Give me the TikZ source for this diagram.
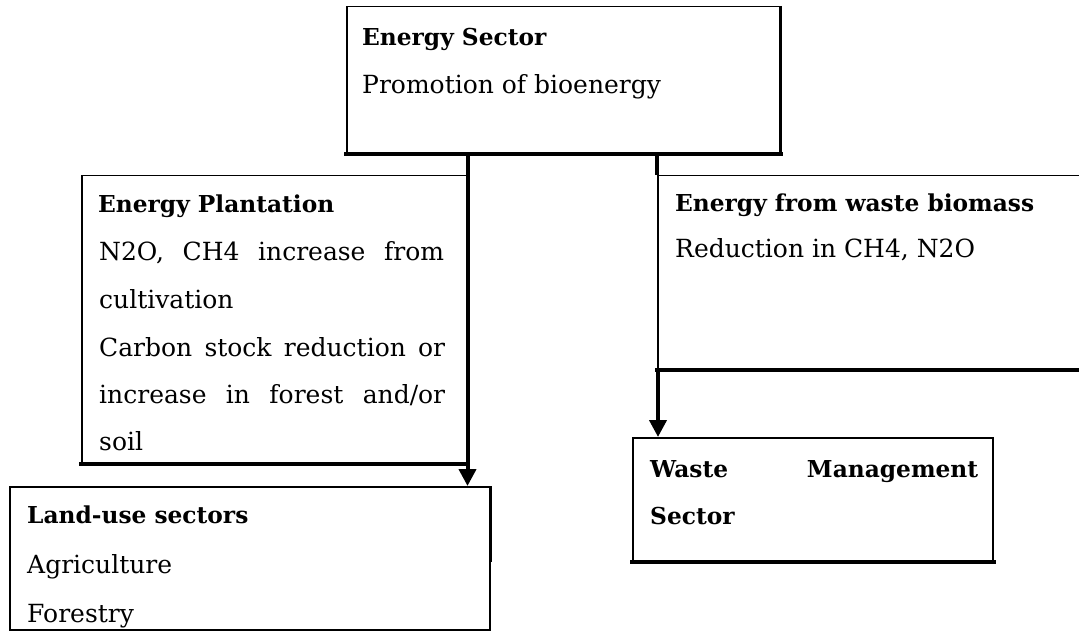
\documentclass[tikz,border=0pt]{standalone}
\usepackage{fontspec}
\setmainfont{DejaVu Serif}
\usetikzlibrary{arrows.meta}
\tikzset{
  box/.style={draw, line width=1.5pt, inner sep=0pt, anchor=north west, fill=white},
  thickline/.style={line width=4pt, line cap=rect},
  conn/.style={line width=4pt, -{Triangle[length=17pt,width=17pt]}},
  lbl/.style={anchor=base west, inner sep=0pt, font=\fontsize{25}{25}\selectfont},
  hdr/.style={anchor=base west, inner sep=0pt, font=\fontsize{23.3}{23.3}\selectfont\bfseries},
}
\begin{document}
\begin{tikzpicture}[x=1pt,y=-1pt]
\useasboundingbox (0,0) rectangle (1079,631);
% boxes
\node[box, minimum width=433pt, minimum height=147pt] (es) at (346,6) {};
\node[box, minimum width=385pt, minimum height=287pt] (ep) at (81,175) {};
\node[box, minimum width=440pt, minimum height=193pt] (ew) at (657,175) {};
\node[box, minimum width=480pt, minimum height=143pt] (lu) at (9,486) {};
\node[box, minimum width=360pt, minimum height=123pt] (wm) at (632,437) {};
% thick shadow edges
\draw[thickline] (es.south west) -- (es.south east);
\draw[line width=2pt] (es.north east) -- (es.south east);
\draw[thickline] (ep.south west) -- (ep.south east);
\draw[thickline] (ew.south west) -- (ew.south east);
\draw[thickline] (wm.south west) -- (wm.south east);
\draw[line width=3pt] (lu.north east) -- ++(0,76);
% connectors
\draw[conn] (es.south -| ep.east) -- (lu.north -| ep.east);
\draw[line width=4pt] (es.south -| ew.west) -- (ew.north west);
\draw[conn] (ew.south west) ++(1,0) coordinate (ewc) (ewc) -- (ewc |- wm.north);
% texts
\node[hdr] (t1) at (362,46) {Energy Sector};
\node[lbl] (t2) at (362,94) {Promotion of bioenergy};
\node[hdr] (t3) at (98,213) {Energy Plantation};
\node[lbl] (t4) at (99,261) {\makebox[345pt][s]{N2O, CH4 increase from}};
\node[lbl] (t5) at (99,308) {cultivation};
\node[lbl] (t6) at (99,356) {\makebox[346pt][s]{Carbon stock reduction or}};
\node[lbl] (t7) at (99,403) {\makebox[346pt][s]{increase in forest and/or}};
\node[lbl] (t8) at (99,450) {soil};
\node[hdr] (t9) at (675,212) {Energy from waste biomass};
\node[lbl] (t10) at (675,258) {Reduction in CH4, N2O};
\node[hdr] (t11) at (27,523) {Land-use sectors};
\node[lbl] (t12) at (27,573) {Agriculture};
\node[lbl] (t13) at (27,622) {Forestry};
\node[hdr] (t14) at (650,477) {\makebox[328pt][s]{Waste Management}};
\node[hdr] (t15) at (650,524) {Sector};
\end{tikzpicture}
\end{document}
